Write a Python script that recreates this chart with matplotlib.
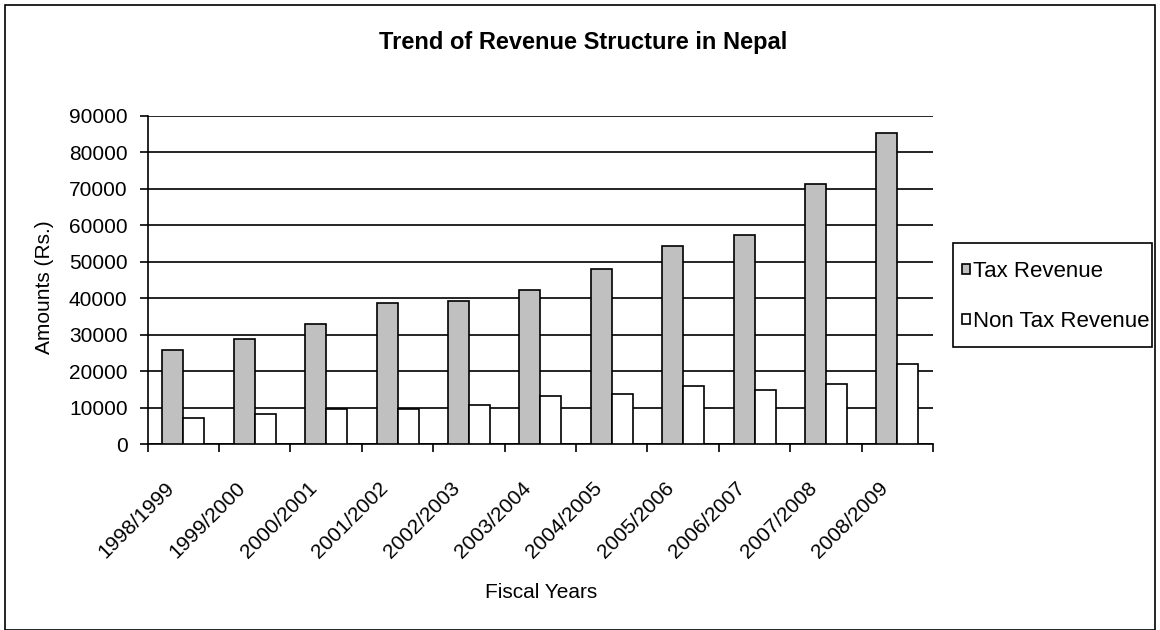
import matplotlib.pyplot as plt
import matplotlib.transforms as mtransforms
import numpy as np
from matplotlib.patches import Rectangle

plt.rcParams["font.family"] = ["Liberation Sans", "DejaVu Sans"]

years = ["1998/1999", "1999/2000", "2000/2001", "2001/2002", "2002/2003", "2003/2004",
         "2004/2005", "2005/2006", "2006/2007", "2007/2008", "2008/2009"]
tax_revenue = [25800, 28800, 33000, 38600, 39200, 42300, 47900, 54200, 57300, 71200, 85200]
non_tax_revenue = [7100, 8200, 9700, 9800, 10800, 13300, 13900, 16000, 14900, 16400, 22100]

W, H = 1160, 630
FS = 15
fig = plt.figure(figsize=(W / 100, H / 100), dpi=100)
ax = fig.add_axes([147.7 / W, 1 - 444.3 / H, (933 - 147.7) / W, (444.3 - 115.7) / H])

x = np.arange(len(years))
bw = 0.294
ax.bar(x - bw / 2, tax_revenue, bw, color="#c0c0c0", edgecolor="black", linewidth=1.2,
       label="Tax Revenue", zorder=3)
ax.bar(x + bw / 2, non_tax_revenue, bw, color="white", edgecolor="black", linewidth=1.2,
       label="Non Tax Revenue", zorder=3)

ax.set_xlim(-0.5, len(years) - 0.5)
ax.set_ylim(0, 90000)
ax.set_yticks(np.arange(0, 90001, 10000))
ax.yaxis.grid(True, color="black", linewidth=1.2, zorder=0)
ax.set_axisbelow(True)

# category labels sit under each group, ticks sit between groups
ax.set_xticks(x)
ax.set_xticklabels(years, rotation=45, ha="right", va="top", rotation_mode="anchor",
                   fontsize=FS)
ax.tick_params(axis="x", length=0, pad=0)
offset = mtransforms.ScaledTranslation(-19 / 100, -34 / 100, fig.dpi_scale_trans)
for lbl in ax.get_xticklabels():
    lbl.set_transform(lbl.get_transform() + offset)
ax.set_xticks(np.arange(-0.5, len(years)), minor=True)
ax.tick_params(axis="x", which="minor", length=5.8, width=1.2, direction="out")
ax.tick_params(axis="y", length=5.5, width=1.2, labelsize=FS, pad=9)

for side in ["top", "right"]:
    ax.spines[side].set_visible(False)
for side in ["left", "bottom"]:
    ax.spines[side].set_linewidth(1.2)

fig.text(45 / W, 1 - 287 / H, "Amounts (Rs.)", fontsize=FS, rotation=90,
         ha="center", va="center")
fig.text(541 / W, 1 - 593 / H, "Fiscal Years", fontsize=FS, ha="center", va="center")
fig.text(583 / W, 1 - 42 / H, "Trend of Revenue Structure in Nepal", fontsize=17,
         fontweight="bold", ha="center", va="center")

leg = ax.legend(loc="center left", bbox_to_anchor=(962 / W, 1 - 296.5 / H),
                bbox_transform=fig.transFigure, fontsize=16, frameon=False,
                handlelength=0.35, handleheight=0.35, handletextpad=0.15,
                labelspacing=1.3, borderpad=0, borderaxespad=0)
for h in leg.legend_handles:
    h.set_linewidth(1.2)
fig.patches.append(Rectangle((953 / W, 1 - 347 / H), 199 / W, 104 / H,
                             transform=fig.transFigure, fill=False, edgecolor="black",
                             linewidth=1.2))

fig.patches.append(Rectangle((5 / W, 0), 1150 / W, 1 - 5 / H, transform=fig.transFigure,
                             fill=False, edgecolor="black", linewidth=1.2))

fig.savefig("out.png", dpi=100)
